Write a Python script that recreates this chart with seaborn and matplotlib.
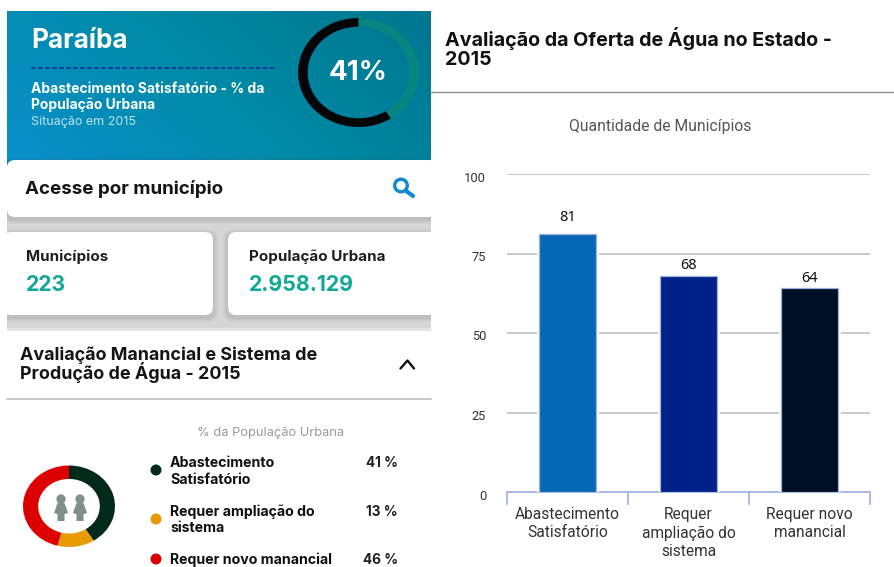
import numpy as np
import pandas as pd
import matplotlib
matplotlib.use("Agg")
import matplotlib.pyplot as plt
import matplotlib.patheffects as pe
from matplotlib.colors import LinearSegmentedColormap
from matplotlib.patches import Circle, FancyBboxPatch, Polygon, Rectangle
from matplotlib.transforms import ScaledTranslation
import seaborn as sns

# -------------------- DATA --------------------
bar_categories = ["Abastecimento\nSatisfatório", "Requer\nampliação do\nsistema", "Requer novo\nmanancial"]
bar_values = [81, 68, 64]
bar_colors = ["#0468b4", "#00218a", "#000f26"]
y_ticks = [0, 25, 50, 75, 100]

donut_labels = ["Abastecimento\nSatisfatório", "Requer ampliação do\nsistema", "Requer novo manancial"]
donut_values = [41, 13, 46]
donut_colors = ["#02291a", "#e89b00", "#dc0000"]

gauge_values = [41, 59]
gauge_colors = ["#078580", "#020608"]

sns.set_theme(style="white")
plt.rcParams["font.family"] = ["Roboto", "DejaVu Sans"]

W, H = 895, 567
fig = plt.figure(figsize=(W / 100, H / 100), dpi=100, facecolor="white")


def px_axes(x0, y0, x1, y1, **kw):
    # axes placed with pixel coordinates, y going down
    return fig.add_axes([x0 / W, 1 - y1 / H, (x1 - x0) / W, (y1 - y0) / H], **kw)


bg = px_axes(0, 0, W, H)
bg.axis("off")


def txt(x, y, s, size, color="#111111", weight="normal", ha="left", family="Inter"):
    # +1: va center sits a little high for these fonts
    bg.text(x, y + 1, s, fontsize=size, color=color, fontweight=weight, ha=ha, va="center", family=family, zorder=8)


def card(x0, y0, x1, y1):
    for grow, alpha in [(5, 0.04), (3.5, 0.07), (2, 0.08)]:
        bg.add_patch(FancyBboxPatch((x0, y0 + 2), x1 - x0, y1 - y0, boxstyle=f"round,pad={grow},rounding_size=9",
                                    fc="#555555", ec="none", alpha=alpha, zorder=3))
    bg.add_patch(FancyBboxPatch((x0, y0), x1 - x0, y1 - y0, boxstyle="round,pad=0,rounding_size=8",
                                fc="white", ec="none", zorder=4))


# -------------------- HEADER CARD --------------------
cmap = LinearSegmentedColormap.from_list("hdr", ["#0a90cc", "#008aa6", "#00768f"])
gx, gy = np.meshgrid(np.linspace(0, 1, 120), np.linspace(0, 1, 60))
bg.imshow((gx + (1 - gy) * 0.4) / 1.4, cmap=cmap, extent=(7, 431, 165, 11), aspect="auto", zorder=1,
          origin="upper", vmin=0, vmax=1)
bg.set_xlim(0, W)
bg.set_ylim(H, 0)

txt(31, 40, "Paraíba", 18.8, "white", "bold")
bg.plot([31, 275], [67.5, 67.5], color="#0a2c9a", lw=1.1, ls=(0, (3, 1.6)), zorder=2)
txt(31, 88, "Abastecimento Satisfatório - % da", 10, "white", "bold")
txt(31, 104, "População Urbana", 10, "white", "bold")
txt(31, 121, "Situação em 2015", 9, "#bfe3ee")
txt(358.5, 72, "41%", 20, "white", "bold", ha="center")

gauge = px_axes(298, 18, 419, 127)
gauge.pie(gauge_values, colors=gauge_colors, startangle=90, counterclock=False, radius=1,
          wedgeprops={"width": 0.16, "linewidth": 0})
gauge.set_aspect("auto")
gauge.set_xlim(-1, 1)
gauge.set_ylim(-1, 1)
gauge.patch.set_alpha(0)

# -------------------- GREY BAND AND CARDS --------------------
bg.add_patch(Rectangle((7, 210), 424, 125, fc="#d6d6d6", ec="none", zorder=1))
card(7, 160, 437, 217)
card(3, 232, 213, 315)
card(228, 232, 437, 315)
bg.add_patch(Rectangle((7, 330), 424, 70, fc="white", ec="none", zorder=5))
bg.add_patch(Rectangle((7, 328), 424, 3, fc="#e4e4e4", ec="none", zorder=5))
bg.add_patch(Rectangle((0, 150), 7, 190, fc="white", ec="none", zorder=6))
bg.add_patch(Rectangle((431, 150), 20, 190, fc="white", ec="none", zorder=6))

txt(25, 188, "Acesse por município", 13.5, "#151515", "bold")
txt(26, 256, "Municípios", 10.9, "#1d1d1d", "bold")
txt(26, 284, "223", 15.3, "#12a898", "bold")
txt(249, 256, "População Urbana", 10.9, "#1d1d1d", "bold")
txt(249, 284, "2.958.129", 15.3, "#12a898", "bold")
txt(20, 354, "Avaliação Manancial e Sistema de", 12.9, "#151515", "bold")
txt(20, 371.5, "Produção de Água - 2015", 12.9, "#151515", "bold")

# search icon and chevron
bg.add_patch(Circle((401, 185.5), 6.3, fc="none", ec="#0d8bd0", lw=2.4, zorder=8))
bg.plot([405.5, 413], [190.5, 196], color="#0d8bd0", lw=3, solid_capstyle="round", zorder=8)
bg.plot([400.5, 407.5, 414], [368.5, 360.5, 368.5], color="#111111", lw=1.7, zorder=8)

# divider lines
bg.plot([7, 431], [399, 399], color="#bdbdbd", lw=1.2, zorder=8)
bg.plot([431, 895], [92, 92], color="#8c8c8c", lw=1.0, zorder=8)

# -------------------- DONUT AND LEGEND --------------------
txt(271, 432, "% da População Urbana", 9.3, "#9a9a9a", ha="center")

donut = px_axes(23, 465.5, 115, 547)
donut.pie(donut_values, colors=donut_colors, startangle=90, counterclock=False, radius=1,
          wedgeprops={"width": 0.33, "linewidth": 0})
donut.set_aspect("auto")
donut.set_xlim(-1, 1)
donut.set_ylim(-1, 1)
donut.patch.set_alpha(0)

for cx in [61, 80]:
    bg.add_patch(Circle((cx, 499), 4.6, fc="#7f8f8c", ec="none", zorder=8))
    bg.add_patch(Polygon([(cx - 3.5, 503), (cx + 3.5, 503), (cx + 7, 513), (cx + 3.5, 514), (cx + 3.5, 521),
                          (cx - 3.5, 521), (cx - 3.5, 514), (cx - 7, 513)], fc="#7f8f8c", ec="none", zorder=8))

legend_dot_y = [470, 519, 559]
legend_line_y = [(462, 478.5), (510.5, 527), (559, None)]
for label, value, color, dy, ly in zip(donut_labels, donut_values, donut_colors, legend_dot_y, legend_line_y):
    bg.add_patch(Circle((156, dy), 5.5, fc=color, ec="none", zorder=8))
    for line, y in zip(label.split("\n"), ly):
        txt(170, y, line, 10.2, "#111111", "bold")
    txt(398, ly[0], f"{value} %", 9.8, "#222222", "bold", ha="right")

# -------------------- BAR CHART --------------------
txt(445, 37, "Avaliação da Oferta de Água no Estado -", 14.2, "#111111", "bold")
txt(445, 59, "2015", 14.2, "#111111", "bold")
txt(660, 126, "Quantidade de Municípios", 11.3, "#555555", ha="center", family="Roboto")

ax = px_axes(507, 174, 870, 492)
ax.patch.set_alpha(0)
df = pd.DataFrame({"categoria": bar_categories, "municipios": bar_values})
sns.barplot(data=df, x="categoria", y="municipios", hue="categoria", palette=bar_colors, legend=False,
            width=0.47, saturation=1, edgecolor="#9db2e2", linewidth=0.9, ax=ax, zorder=3)
for p in ax.patches:
    p.set_path_effects([pe.withStroke(linewidth=3.4, foreground="white")])
label_pads = [7, 2, 2]
for cont, pad in zip(ax.containers, label_pads):
    ax.bar_label(cont, padding=pad, fontsize=10.5, color="#111111", fontfamily="Noto Sans", fontweight="semibold")

ax.set_xlim(-0.5, 2.5)
ax.set_ylim(0, 100)
ax.set_xlabel("")
ax.set_ylabel("")
ax.set_yticks(y_ticks)
ax.set_yticklabels([str(v) for v in y_ticks], fontsize=9.3, color="#333333")
ax.tick_params(axis="y", length=0, pad=15)
shift = ScaledTranslation(0, -2.5 / 100, fig.dpi_scale_trans)
for lab in ax.get_yticklabels():
    lab.set_transform(lab.get_transform() + shift)
ax.yaxis.grid(True, color="#c9c9c9", lw=1.4, zorder=0)
ax.set_axisbelow(True)

ax.set_xticks([-0.5, 0.5, 1.5, 2.5])
ax.set_xticklabels([])
ax.set_xticks(range(len(bar_categories)), minor=True)
ax.set_xticklabels(bar_categories, minor=True, fontsize=11.2, color="#333333", linespacing=1.32)
ax.tick_params(axis="x", which="major", bottom=True, length=9.5, width=1.2, color="#9db2e2")
ax.tick_params(axis="x", which="minor", bottom=False, length=0, pad=10.5)
ax.xaxis.grid(False)
for name in ["top", "left", "right"]:
    ax.spines[name].set_visible(False)
ax.spines["bottom"].set_color("#9db2e2")
ax.spines["bottom"].set_linewidth(1.2)

fig.savefig("out.png", dpi=100)
